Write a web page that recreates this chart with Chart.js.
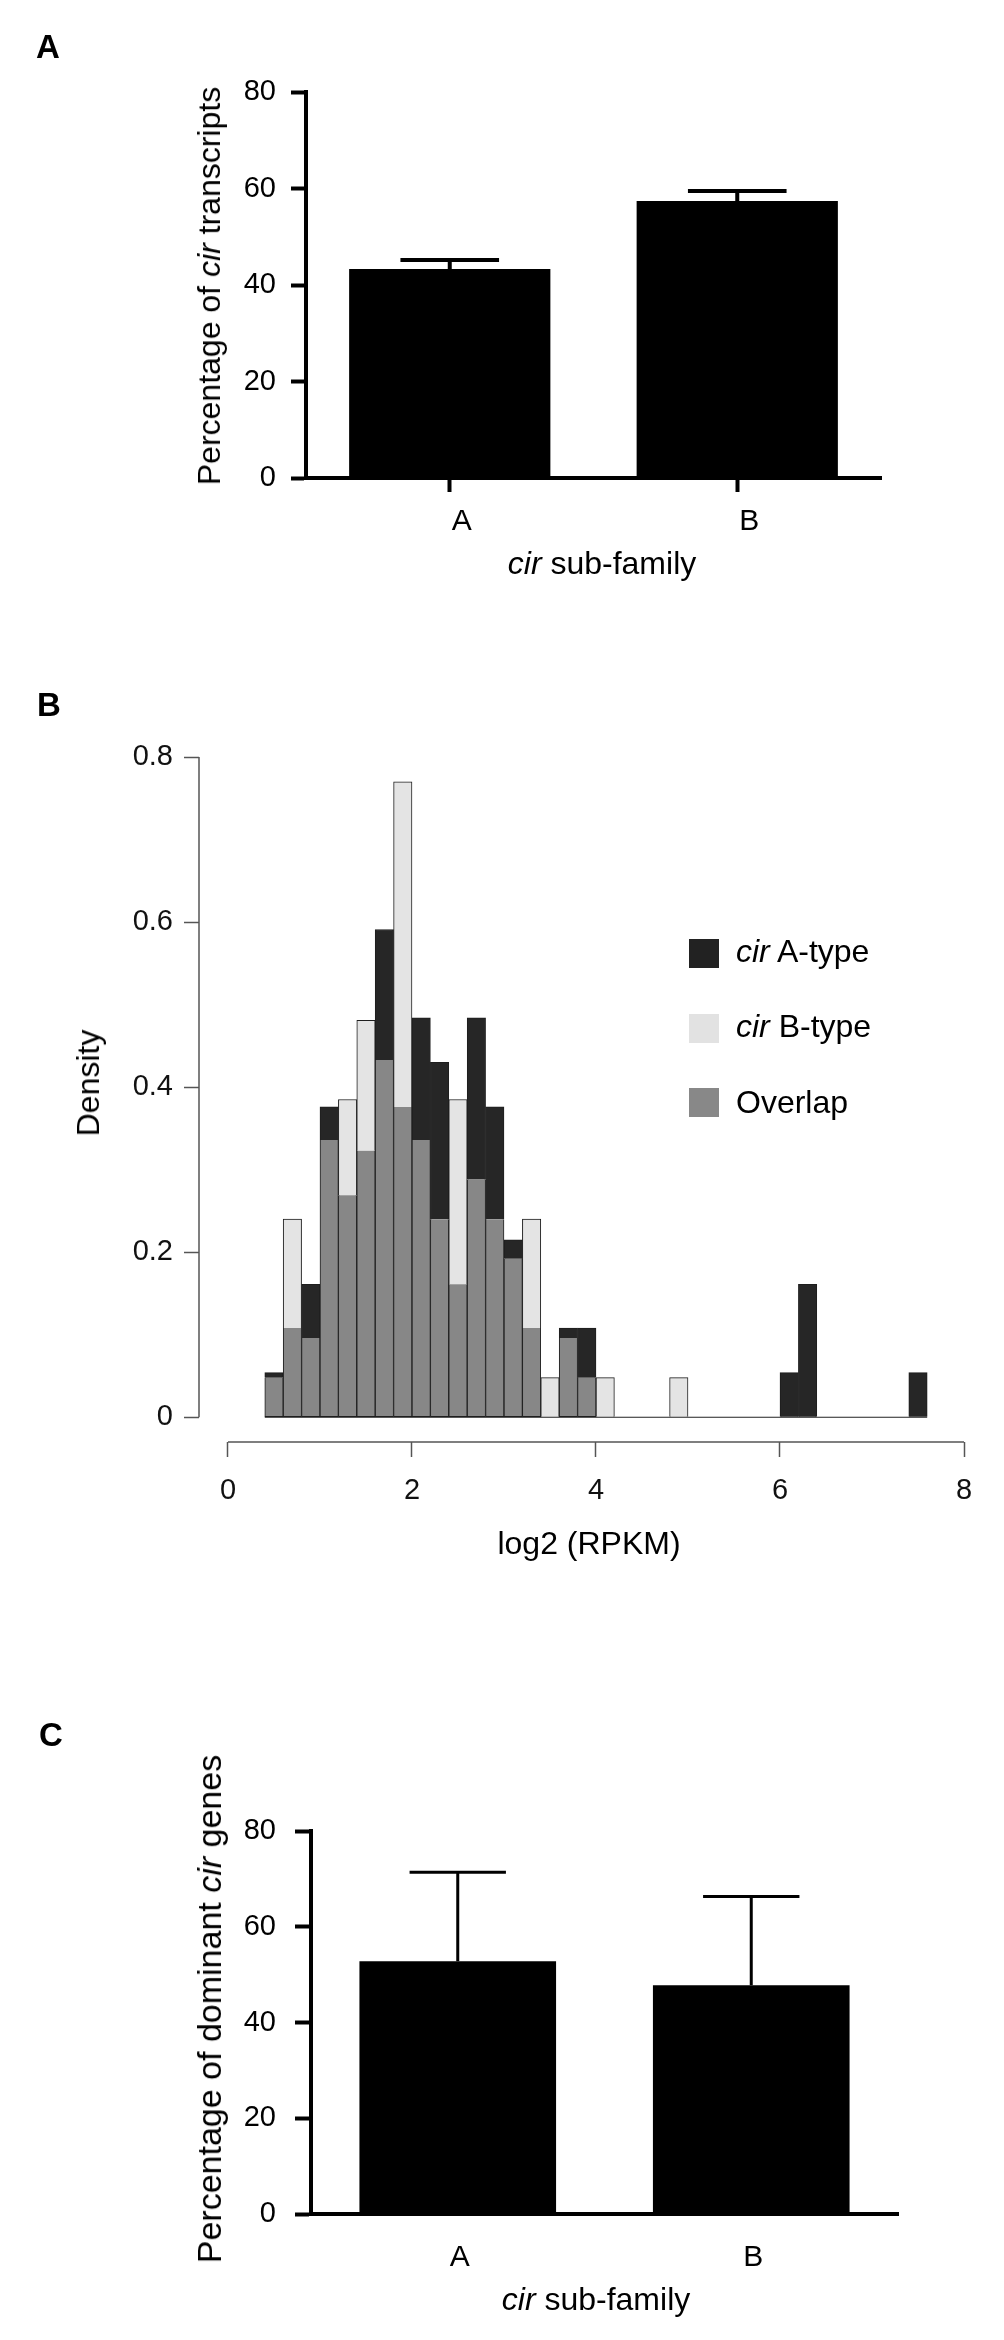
<!DOCTYPE html>
<html>
<head>
<meta charset="utf-8">
<script src="https://cdn.jsdelivr.net/npm/chart.js@4.4.1/dist/chart.umd.min.js"></script>
<style>
  html, body { margin: 0; padding: 0; background: #fff; }
  #page { position: relative; width: 1004px; height: 2340px; overflow: hidden;
          font-family: "Liberation Sans", Arial, sans-serif; color: #000; }
  canvas { position: absolute; left: 0; }
  .txt { position: absolute; white-space: nowrap; line-height: 1; }
  .ctr { transform: translate(-50%, -50%); }
  .rot { transform: translate(-50%, -50%) rotate(-90deg); }
  .panel { font-weight: bold; font-size: 33px; }
  .swatch { position: absolute; left: 689px; width: 30px; height: 29px; }
</style>
</head>
<body>
<div id="page">
  <canvas id="chartA" width="1004" height="620" style="top:0"></canvas>
  <canvas id="chartB" width="1004" height="920" style="top:680px"></canvas>
  <canvas id="chartC" width="1004" height="640" style="top:1700px"></canvas>

  <!-- panel A text -->
  <div class="txt panel" style="left:36px;top:30px">A</div>
  <div class="txt rot" style="left:209px;top:286px;font-size:32px">Percentage of <i>cir</i> transcripts</div>
  <div class="txt ctr" style="left:602px;top:563px;font-size:32px"><i>cir</i> sub-family</div>

  <!-- panel B text -->
  <div class="txt panel" style="left:37px;top:688px">B</div>
  <div class="txt rot" style="left:88px;top:1083px;font-size:32px">Density</div>
  <div class="txt ctr" style="left:589px;top:1543px;font-size:32px">log2 (RPKM)</div>
  <div class="swatch" style="top:939px;background:#222"></div>
  <div class="swatch" style="top:1014px;background:#e2e2e2"></div>
  <div class="swatch" style="top:1088px;background:#888"></div>
  <div class="txt" style="left:736px;top:935px;font-size:32px"><i>cir</i> A-type</div>
  <div class="txt" style="left:736px;top:1010px;font-size:32px"><i>cir</i> B-type</div>
  <div class="txt" style="left:736px;top:1086px;font-size:32px">Overlap</div>

  <!-- panel C text -->
  <div class="txt panel" style="left:39px;top:1718px">C</div>
  <div class="txt rot" style="left:209px;top:2009px;font-size:34px">Percentage of dominant <i>cir</i> genes</div>
  <div class="txt ctr" style="left:596px;top:2299px;font-size:32px"><i>cir</i> sub-family</div>
</div>

<script>
// panel A and C: bar + upper error
const subFamilies = ['A', 'B'];
const transcriptPct = [43.3, 57.4];
const transcriptErr = [1.9, 2.1];
const dominantPct = [52.8, 47.8];
const dominantErr = [18.6, 18.5];
const pctTicks = [0, 20, 40, 60, 80];

// panel B: histogram bins of width 0.2 starting at binStarts
const binWidth = 0.2;
const binStarts = [0.4, 0.6, 0.8, 1.0, 1.2, 1.4, 1.6, 1.8, 2.0, 2.2, 2.4, 2.6,
                   2.8, 3.0, 3.2, 3.4, 3.6, 3.8, 4.0, 4.2, 4.4, 4.6, 4.8, 5.0,
                   5.2, 5.4, 5.6, 5.8, 6.0, 6.2, 6.4, 6.6, 6.8, 7.0, 7.2, 7.4];
const densityA = [0.054, 0.108, 0.161, 0.376, 0.269, 0.323, 0.591, 0.376, 0.484, 0.430, 0.161, 0.484,
                  0.376, 0.215, 0.108, 0, 0.108, 0.108, 0, 0, 0, 0, 0, 0,
                  0, 0, 0, 0, 0.054, 0.161, 0, 0, 0, 0, 0, 0.054];
const densityB = [0.048, 0.240, 0.096, 0.336, 0.385, 0.481, 0.433, 0.770, 0.336, 0.240, 0.385, 0.288,
                  0.240, 0.192, 0.240, 0.048, 0.096, 0.048, 0.048, 0, 0, 0, 0.048, 0,
                  0, 0, 0, 0, 0, 0, 0, 0, 0, 0, 0, 0];
const densityTicks = [0, 0.2, 0.4, 0.6, 0.8];
const log2Ticks = [0, 2, 4, 6, 8];

Chart.defaults.font.family = "'Liberation Sans', Arial, sans-serif";
Chart.defaults.color = '#000';

// draws the upper error bar with a cap on top of each bar
const errorBars = {
    id: 'errorBars',
    afterDatasetsDraw(chart, args, opts) {
        const ctx = chart.ctx;
        const y = chart.scales.y;
        const values = chart.data.datasets[0].data;
        ctx.save();
        ctx.strokeStyle = '#000';
        ctx.lineWidth = opts.width;
        chart.getDatasetMeta(0).data.forEach((bar, i) => {
            const top = y.getPixelForValue(values[i] + opts.errors[i]);
            const half = bar.width * opts.capRatio / 2;
            ctx.beginPath();
            ctx.moveTo(bar.x, bar.y);
            ctx.lineTo(bar.x, top);
            ctx.moveTo(bar.x - half, top);
            ctx.lineTo(bar.x + half, top);
            ctx.stroke();
        });
        ctx.restore();
    }
};

// R-style axes for the histogram: lines only span the first..last tick
const rAxes = {
    id: 'rAxes',
    afterDraw(chart) {
        const { ctx, chartArea } = chart;
        const { x, y } = chart.scales;
        ctx.save();
        ctx.strokeStyle = '#555';
        ctx.lineWidth = 1.5;
        ctx.beginPath();
        ctx.moveTo(chartArea.left, y.getPixelForValue(densityTicks[0]));
        ctx.lineTo(chartArea.left, y.getPixelForValue(densityTicks[densityTicks.length - 1]));
        ctx.moveTo(x.getPixelForValue(log2Ticks[0]), chartArea.bottom);
        ctx.lineTo(x.getPixelForValue(log2Ticks[log2Ticks.length - 1]), chartArea.bottom);
        ctx.stroke();
        // empty bins show as a flat line along zero
        ctx.strokeStyle = '#222';
        ctx.lineWidth = 1.2;
        ctx.beginPath();
        ctx.moveTo(x.getPixelForValue(binStarts[0]), y.getPixelForValue(0));
        ctx.lineTo(x.getPixelForValue(binStarts[binStarts.length - 1] + binWidth), y.getPixelForValue(0));
        ctx.stroke();
        ctx.restore();
    }
};

function barPanel(id, values, errors, opts) {
    return new Chart(document.getElementById(id), {
        type: 'bar',
        data: {
            labels: subFamilies,
            datasets: [{
                data: values,
                backgroundColor: '#000',
                borderWidth: 0,
                barPercentage: opts.barPct,
                categoryPercentage: 1
            }]
        },
        options: {
            responsive: false,
            animation: false,
            layout: { padding: opts.padding },
            plugins: {
                legend: { display: false },
                tooltip: { enabled: false },
                errorBars: { errors: errors, width: opts.errWidth, capRatio: 0.49 }
            },
            scales: {
                x: {
                    afterFit: s => { s.height = 80; },
                    grid: { display: true, drawOnChartArea: false, offset: false,
                            tickLength: 14, tickWidth: 4, tickColor: opts.xTickColor },
                    border: { display: true, width: 4, color: '#000' },
                    ticks: { font: { size: 30 }, color: '#000', padding: 12, labelOffset: opts.labelOffset }
                },
                y: {
                    min: pctTicks[0],
                    max: pctTicks[pctTicks.length - 1],
                    afterFit: s => { s.width = opts.yWidth; },
                    afterBuildTicks: s => { s.ticks = pctTicks.map(v => ({ value: v })); },
                    grid: { display: true, drawOnChartArea: false,
                            tickLength: opts.yTickLen, tickWidth: 4, tickColor: '#000' },
                    border: { display: true, width: 4, color: '#000' },
                    ticks: { font: { size: 29 }, color: '#000', padding: opts.yPad, autoSkip: false }
                }
            }
        },
        plugins: [errorBars]
    });
}

barPanel('chartA', transcriptPct, transcriptErr, {
    padding: { left: 0, right: 123, top: 92, bottom: 62 },
    yWidth: 306, yTickLen: 15, yPad: 15, barPct: 0.7,
    errWidth: 4, xTickColor: '#000', labelOffset: 12
});

barPanel('chartC', dominantPct, dominantErr, {
    padding: { left: 0, right: 106, top: 131, bottom: 46 },
    yWidth: 311, yTickLen: 16, yPad: 19, barPct: 0.67,
    errWidth: 3, xTickColor: 'rgba(0,0,0,0)', labelOffset: 2
});

// histogram: overlap = shared part, then whichever sub-family is higher
const binCentres = binStarts.map(s => s + binWidth / 2);
const overlap = densityA.map((a, i) => Math.min(a, densityB[i]));
const aOnly = densityA.map((a, i) => Math.max(a - densityB[i], 0));
const bOnly = densityB.map((b, i) => Math.max(b - densityA[i], 0));
const toPoints = arr => arr.map((v, i) => ({ x: binCentres[i], y: v }));

new Chart(document.getElementById('chartB'), {
    type: 'bar',
    data: {
        datasets: [
            { label: 'Overlap', data: toPoints(overlap), backgroundColor: '#878787',
              borderColor: '#1e1e1e', borderWidth: 1, borderSkipped: 'end' },
            { label: 'cir A-type', data: toPoints(aOnly), backgroundColor: '#262626',
              borderColor: '#1e1e1e', borderWidth: 1, borderSkipped: 'start' },
            { label: 'cir B-type', data: toPoints(bOnly), backgroundColor: '#e4e4e4',
              borderColor: '#1e1e1e', borderWidth: 1, borderSkipped: 'start' }
        ]
    },
    options: {
        responsive: false,
        animation: false,
        layout: { padding: { left: 0, right: 40, top: 77, bottom: 58 } },
        datasets: { bar: { barPercentage: 1, categoryPercentage: 1, grouped: false } },
        plugins: { legend: { display: false }, tooltip: { enabled: false } },
        scales: {
            x: {
                type: 'linear',
                stacked: true,
                offset: false,
                min: -0.315,
                max: 8,
                afterFit: s => { s.height = 100; },
                afterBuildTicks: s => { s.ticks = log2Ticks.map(v => ({ value: v })); },
                grid: { display: true, drawOnChartArea: false, offset: false,
                        tickLength: 15, tickWidth: 1.5, tickColor: '#555' },
                border: { display: false },
                ticks: { font: { size: 29 }, color: '#111', padding: 17, maxRotation: 0,
                         autoSkip: false, callback: v => String(v) }
            },
            y: {
                stacked: true,
                min: -0.03,
                max: 0.8,
                afterFit: s => { s.width = 199; },
                afterBuildTicks: s => { s.ticks = densityTicks.map(v => ({ value: v })); },
                grid: { display: true, drawOnChartArea: false,
                        tickLength: 15, tickWidth: 1.5, tickColor: '#555' },
                border: { display: false },
                ticks: { font: { size: 29 }, color: '#111', padding: 11,
                         autoSkip: false, callback: v => String(v) }
            }
        }
    },
    plugins: [rAxes]
});
</script>
</body>
</html>
